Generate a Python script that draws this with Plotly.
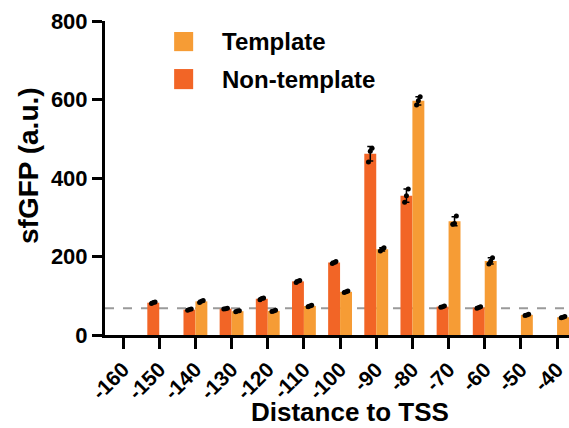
import numpy as np
import plotly.graph_objects as go

# ---- data ----
positions = [-160, -150, -140, -130, -120, -110, -100, -90, -80, -70, -60, -50, -40]
tick_labels = [str(p) for p in positions]

# replicate measurements (None = not measured)
nontemplate_reps = [
    None,
    [80, 83, 84],
    [63, 65, 66],
    [66, 67, 68],
    [90, 93, 94],
    [134, 137, 139],
    [182, 185, 187],
    [441, 468, 476],
    [338, 355, 372],
    [71, 72, 74],
    [68, 70, 72],
    None,
    None,
]
template_reps = [
    None,
    None,
    [83, 86, 88],
    [59, 61, 62],
    [60, 61, 63],
    [72, 74, 76],
    [108, 110, 112],
    [214, 219, 222],
    [586, 597, 607],
    [282, 284, 303],
    [181, 188, 197],
    [50, 51, 53],
    [44, 45, 47],
]
baseline = 68

series_names = ["Template", "Non-template"]
c_template = "#F69C35"
c_nontemplate = "#F26526"

FONT = "Arial, Liberation Sans, sans-serif"

def stats(reps):
    m = [None if r is None else float(np.mean(r)) for r in reps]
    s = [0 if r is None else float(np.std(r, ddof=1)) for r in reps]
    return m, s

nt_mean, nt_sd = stats(nontemplate_reps)
t_mean, t_sd = stats(template_reps)

bargap = 0.34
step = 10
half = step * (1 - bargap) / 4  # center offset of each bar in a group

fig = go.Figure()
for name, mean, sd, col in [("Non-template", nt_mean, nt_sd, c_nontemplate),
                            ("Template", t_mean, t_sd, c_template)]:
    fig.add_trace(go.Bar(
        x=positions, y=mean, name=name, marker=dict(color=col, line=dict(width=0)),
        error_y=dict(type="data", array=sd, color="black", thickness=1.5, width=3),
        showlegend=False,
    ))

# replicate dots
jit = [-0.5, 0.0, 0.5]
for reps, off in [(nontemplate_reps, -half), (template_reps, half)]:
    xs, ys = [], []
    for p, r in zip(positions, reps):
        if r is None:
            continue
        for j, v in zip(jit, r):
            xs.append(p + off + j)
            ys.append(v)
    fig.add_trace(go.Scatter(x=xs, y=ys, mode="markers",
                             marker=dict(color="black", size=5),
                             showlegend=False, hoverinfo="y", cliponaxis=False))

# baseline dashed line
fig.add_shape(type="line", xref="paper", x0=0, x1=1, yref="y", y0=baseline, y1=baseline,
              line=dict(color="#9a9a9a", width=2, dash="dash"), layer="below")

# manual legend
leg = [(series_names[0], c_template, 0.965, 0.904, 0.936),
       (series_names[1], c_nontemplate, 0.847, 0.783, 0.815)]
for name, col, y1, y0, yc in leg:
    fig.add_shape(type="rect", xref="paper", yref="paper", x0=0.149, x1=0.190, y0=y0, y1=y1,
                  fillcolor=col, line=dict(width=0))
    fig.add_annotation(xref="paper", yref="paper", x=0.248, y=yc, text=name, showarrow=False,
                       xanchor="left", yanchor="middle",
                       font=dict(family=FONT, size=24, color="black", weight="bold"))

# axis titles
fig.add_annotation(xref="paper", yref="paper", x=(28 - 105) / 464, y=(335 - 166) / 314,
                   text="sfGFP (a.u.)", textangle=-90, showarrow=False,
                   xanchor="center", yanchor="middle",
                   font=dict(family=FONT, size=28, color="black", weight="bold"))
fig.add_annotation(xref="paper", yref="paper", x=(350 - 105) / 464, y=(335 - 412) / 314,
                   text="Distance to TSS", showarrow=False,
                   xanchor="center", yanchor="middle",
                   font=dict(family=FONT, size=26, color="black", weight="bold"))

fig.update_layout(
    width=569, height=428,
    margin=dict(l=105, r=0, t=21, b=93),
    barmode="group", bargap=bargap, bargroupgap=0,
    plot_bgcolor="white", paper_bgcolor="white",
    font=dict(family=FONT, color="black"),
)
fig.update_xaxes(
    range=[-165, -36.7], tickmode="array", tickvals=positions, ticktext=tick_labels,
    tickangle=-45, ticks="outside", ticklen=11, tickwidth=2.5, tickcolor="black",
    showline=True, linewidth=3, linecolor="black", showgrid=False, zeroline=False,
    tickfont=dict(family=FONT, size=21, color="black", weight="bold"),
    automargin=False,
)
fig.update_yaxes(
    range=[0, 800], tickvals=[0, 200, 400, 600, 800],
    ticks="outside", ticklen=10, tickwidth=2.5, tickcolor="black",
    showline=True, linewidth=3, linecolor="black", showgrid=False, zeroline=False,
    tickfont=dict(family=FONT, size=22, color="black", weight="bold"),
    automargin=False,
)

fig.write_html(
    "out.html",
    config={"displayModeBar": False},
    post_script="document.body.style.margin='0';document.body.style.overflow='hidden';",
)
